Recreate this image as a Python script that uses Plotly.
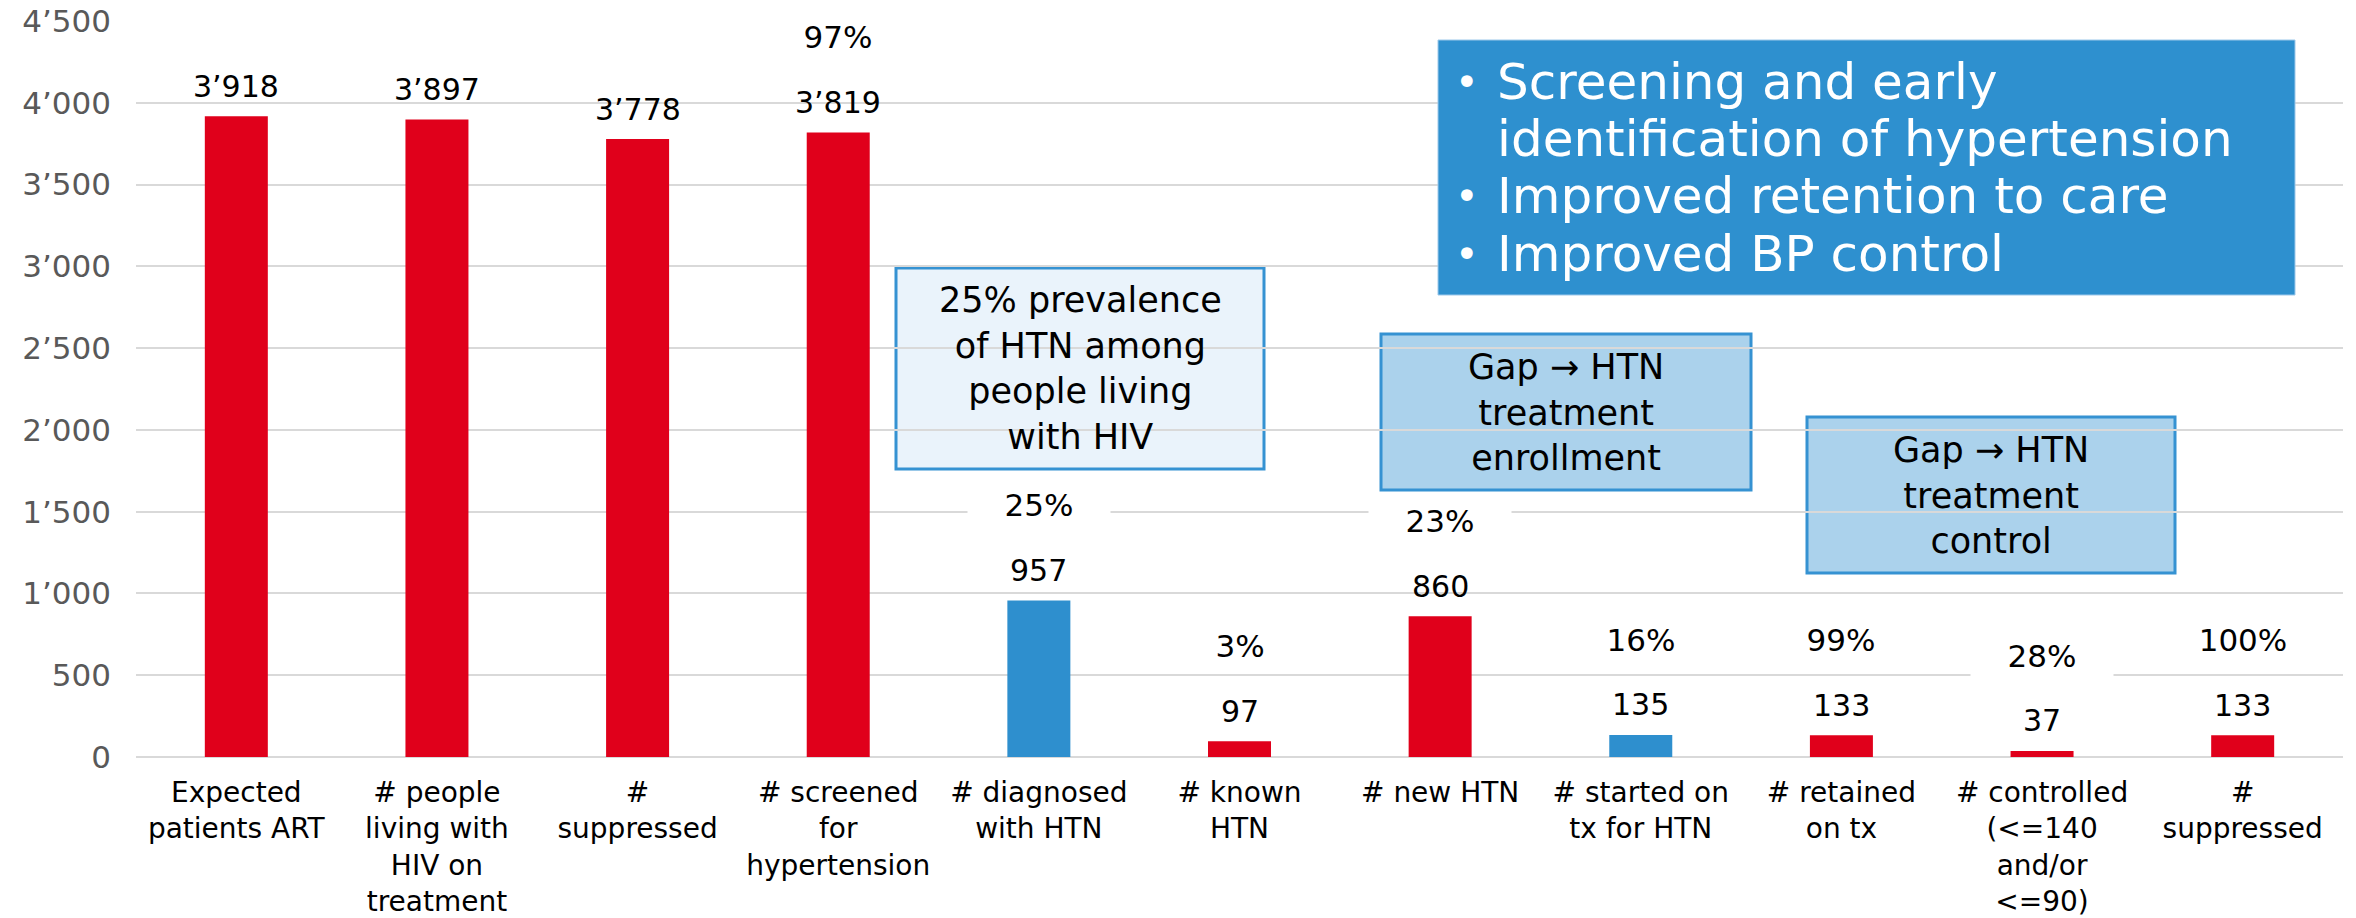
import plotly.graph_objects as go

# ---------------- data ----------------
categories = [
    "Expected<br>patients ART",
    "# people<br>living with<br>HIV on<br>treatment",
    "#<br>suppressed",
    "# screened<br>for<br>hypertension",
    "# diagnosed<br>with HTN",
    "# known<br>HTN",
    "# new HTN",
    "# started on<br>tx for HTN",
    "# retained<br>on tx",
    "# controlled<br>(&lt;=140<br>and/or<br>&lt;=90)",
    "#<br>suppressed",
]
values = [3918, 3897, 3778, 3819, 957, 97, 860, 135, 133, 37, 133]
highlight = [False, False, False, False, True, False, False, True, False, False, False]
pct_labels = [None, None, None, "97%", "25%", "3%", "23%", "16%", "99%", "28%", "100%"]
y_ticks = [0, 500, 1000, 1500, 2000, 2500, 3000, 3500, 4000, 4500]

box_prevalence = "25% prevalence<br>of HTN among<br>people living<br>with HIV"
box_gap_enroll = "Gap \u2192 HTN<br>treatment<br>enrollment"
box_gap_control = "Gap \u2192 HTN<br>treatment<br>control"
bullets = [
    ("\u2022", "Screening and early"),
    ("", "identification of hypertension"),
    ("\u2022", "Improved retention to care"),
    ("\u2022", "Improved BP control"),
]

# ---------------- style ----------------
RED = "#E0001B"
BLUE = "#2E8FCE"
FONT = "DejaVu Sans"
W, H = 2356, 918
# plot area in window pixels
L, R, T, B = 136, 2343, 21, 757


def px_x(p):
    return (p - L) / (R - L)


def px_y(p):
    return (B - p) / (B - T)


def fmt(v):
    return f"{v:,}".replace(",", "\u2019")


x_idx = list(range(len(values)))
colors = [BLUE if h else RED for h in highlight]

fig = go.Figure()
fig.add_trace(go.Bar(
    x=x_idx, y=values, width=0.314,
    marker=dict(color=colors, line=dict(width=0)),
    hoverinfo="x+y", showlegend=False,
))

annotations = []
# value labels
for i, v in enumerate(values):
    annotations.append(dict(
        x=i, y=v, xref="x", yref="y", text=fmt(v), showarrow=False,
        yanchor="middle", yshift=30, font=dict(family=FONT, size=30, color="black"),
    ))
# percentage labels with white backgrounds
for i, (v, p) in enumerate(zip(values, pct_labels)):
    if p is None:
        continue
    annotations.append(dict(
        x=i, y=v, xref="x", yref="y", text=p, showarrow=False,
        yanchor="middle", yshift=95, width=140, height=50, bgcolor="white",
        font=dict(family=FONT, size=31, color="black"),
    ))

shapes = []
# light text boxes (below grid)
light_boxes = [
    (896, 268, 1264, 469, "#EAF3FB", box_prevalence),
    (1381, 334, 1751, 490, "#ABD2EC", box_gap_enroll),
    (1807, 417, 2175, 573, "#ABD2EC", box_gap_control),
]
for x0, y0, x1, y1, fill, txt in light_boxes:
    shapes.append(dict(
        type="rect", xref="paper", yref="paper",
        x0=px_x(x0), x1=px_x(x1), y0=px_y(y1), y1=px_y(y0),
        fillcolor=fill, line=dict(color="#3592D2", width=3), layer="below",
    ))
    annotations.append(dict(
        x=px_x((x0 + x1) / 2), y=px_y((y0 + y1) / 2), xref="paper", yref="paper",
        text=txt, showarrow=False, xanchor="center", yanchor="middle", align="center",
        font=dict(family=FONT, size=35, color="black"),
    ))

# dark blue box
shapes.append(dict(
    type="rect", xref="paper", yref="paper",
    x0=px_x(1438), x1=px_x(2295), y0=px_y(295), y1=px_y(40),
    fillcolor="#2E90CF", line=dict(color="#9CC8EA", width=1), layer="above",
))
line_centers = [82, 139, 196, 254]
for (b, t), yc in zip(bullets, line_centers):
    if b:
        annotations.append(dict(
            x=px_x(1467), y=px_y(yc), xref="paper", yref="paper", text=b,
            showarrow=False, xanchor="center", yanchor="middle",
            font=dict(family=FONT, size=40, color="white"),
        ))
    annotations.append(dict(
        x=px_x(1495), y=px_y(yc), xref="paper", yref="paper", text=t,
        showarrow=False, xanchor="left", yanchor="middle", align="left",
        font=dict(family=FONT, size=50, color="white"),
    ))

fig.update_layout(
    width=W, height=H,
    margin=dict(l=L, r=W - R, t=T, b=H - B, pad=0, autoexpand=False),
    paper_bgcolor="white", plot_bgcolor="white",
    separators=".\u2019",
    font=dict(family=FONT, size=28, color="black"),
    xaxis=dict(
        tickmode="array", tickvals=x_idx, ticktext=categories,
        range=[-0.5, len(values) - 0.5], showgrid=False, zeroline=False,
        showline=False, ticks="", tickangle=0, ticklabelstandoff=16,
        automargin=False, ticklabeloverflow="allow",
        tickfont=dict(family=FONT, size=28, color="black"),
    ),
    yaxis=dict(
        range=[0, 4500], tickmode="array", tickvals=y_ticks, tickformat=",",
        showgrid=True, gridcolor="#D9D9D9", gridwidth=2,
        zeroline=True, zerolinecolor="#D9D9D9", zerolinewidth=2,
        showline=False, ticks="", ticklabelstandoff=24, automargin=False,
        ticklabeloverflow="allow",
        tickfont=dict(family=FONT, size=31, color="#595959"),
    ),
    shapes=shapes,
    annotations=annotations,
)

fig.write_html(
    "out.html",
    config={"displayModeBar": False},
    post_script="document.body.style.margin='0';document.body.style.overflow='hidden';",
)
